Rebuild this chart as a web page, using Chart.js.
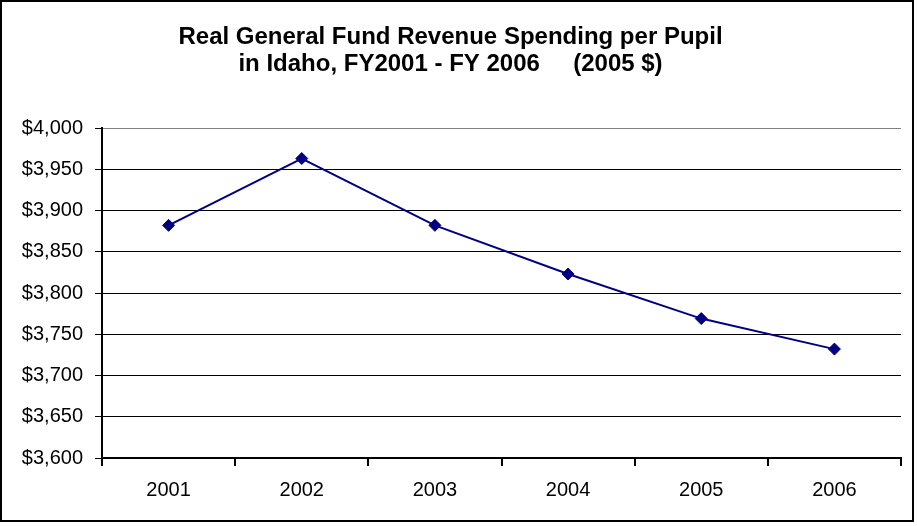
<!DOCTYPE html>
<html lang="en">
<head>
    <meta charset="UTF-8">
    <title>Real General Fund Revenue Spending per Pupil</title>
    <style>
        html, body { margin: 0; padding: 0; background: #fff; }
        #grafico { display: block; }
    </style>
</head>
<body>
    <canvas id="grafico" width="917" height="526"></canvas>

    <script src="https://cdn.jsdelivr.net/npm/chart.js"></script>
    <script>
        const anos = ['2001', '2002', '2003', '2004', '2005', '2006']
        const gastoPorAluno = [3882, 3963, 3882, 3823, 3769, 3732]
        const titulo = [
            'Real General Fund Revenue Spending per Pupil',
            'in Idaho, FY2001 - FY 2006     (2005 $)'
        ]
        const eixoMin = 3600
        const eixoMax = 4000
        const passo = 50

        Chart.defaults.font.family = 'Arial, "Liberation Sans", sans-serif'
        Chart.defaults.color = '#000'

        // moldura preta em volta de todo o grafico
        const moldura = {
            id: 'moldura',
            afterDraw(chart) {
                const ctx = chart.ctx
                ctx.save()
                ctx.strokeStyle = '#000'
                ctx.lineWidth = 2
                ctx.strokeRect(1, 1, 912, 520)
                ctx.restore()
            }
        }

        new Chart(document.getElementById('grafico'), {
            type: 'line',
            data: {
                labels: anos,
                datasets: [{
                    data: gastoPorAluno,
                    borderColor: '#000080',
                    backgroundColor: '#000080',
                    borderWidth: 2,
                    pointStyle: 'rectRot',
                    pointRadius: 6,
                    pointBorderWidth: 1,
                    tension: 0,
                    fill: false
                }]
            },
            options: {
                responsive: false,
                animation: false,
                layout: { padding: { left: 0, right: 16, top: 0, bottom: 0 } },
                plugins: {
                    legend: { display: false },
                    tooltip: { enabled: false },
                    title: {
                        display: true,
                        text: titulo,
                        color: '#000',
                        font: { size: 24, weight: 'bold', lineHeight: '27px' },
                        padding: { top: 24, bottom: 50 }
                    }
                },
                scales: {
                    x: {
                        offset: true,
                        grid: {
                            offset: true,
                            drawOnChartArea: true,
                            color: c => c.index === anos.length ? '#808080' : 'rgba(0,0,0,0)',
                            tickColor: '#000',
                            tickLength: 8,
                            lineWidth: 2
                        },
                        border: { color: '#000', width: 2 },
                        ticks: { font: { size: 20 }, padding: 12, color: '#000' },
                        afterFit(scale) { scale.height = 68 }
                    },
                    y: {
                        min: eixoMin,
                        max: eixoMax,
                        grid: {
                            color: c => c.tick && c.tick.value === eixoMax ? '#808080' : '#000',
                            tickColor: '#000',
                            tickLength: 7,
                            lineWidth: 1
                        },
                        border: { color: '#000', width: 2 },
                        ticks: {
                            stepSize: passo,
                            font: { size: 20 },
                            padding: 12,
                            color: '#000',
                            callback: v => '$' + v.toLocaleString('en-US')
                        },
                        afterFit(scale) { scale.width = 102 }
                    }
                }
            },
            plugins: [moldura]
        })
    </script>
</body>
</html>
